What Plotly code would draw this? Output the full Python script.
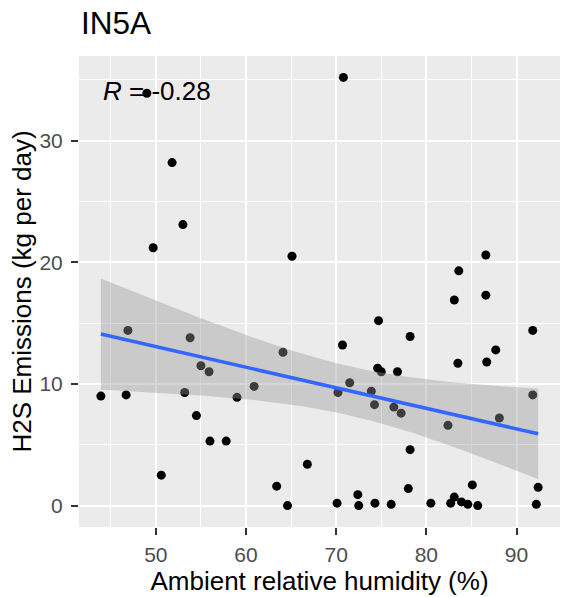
import numpy as np
import plotly.graph_objects as go

# ---- data ----
humidity = [43.9, 46.7, 46.9, 49.0, 49.7, 50.6, 51.8, 53.0, 53.2, 53.8,
            54.5, 55.0, 55.9, 56.0, 57.8, 59.0, 60.9, 63.4, 64.1, 64.6,
            65.1, 66.8, 70.1, 70.2, 70.7, 70.8, 71.5, 72.4, 72.5, 73.9,
            74.25, 74.3, 74.6, 74.7, 75.0, 76.1, 76.4, 76.8, 77.2, 78.0,
            78.2, 78.2, 80.5, 82.4, 82.7, 83.1, 83.1, 83.5, 83.6, 83.9,
            84.6, 85.1, 85.7, 86.6, 86.6, 86.7, 87.7, 88.1, 91.8, 91.8,
            92.2, 92.4]
emissions = [9.0, 9.1, 14.4, 33.9, 21.2, 2.5, 28.2, 23.1, 9.3, 13.8,
             7.4, 11.5, 11.0, 5.3, 5.3, 8.9, 9.8, 1.6, 12.6, 0.0,
             20.5, 3.4, 0.2, 9.3, 13.2, 35.2, 10.1, 0.9, 0.0, 9.4,
             8.3, 0.2, 11.3, 15.2, 11.0, 0.1, 8.1, 11.0, 7.6, 1.4,
             4.6, 13.9, 0.2, 6.6, 0.2, 0.7, 16.9, 11.7, 19.3, 0.3,
             0.1, 1.7, 0.0, 20.6, 17.3, 11.8, 12.8, 7.2, 14.4, 9.1,
             0.1, 1.5]
x_ticks = [50, 60, 70, 80, 90]
y_ticks = [0, 10, 20, 30]
title_text = "IN5A"
x_title = "Ambient relative humidity (%)"
y_title = "H2S Emissions (kg per day)"
r_label = "<i>R</i> = -0.28"
T975 = 2.0003  # t quantile, df = n - 2

# ---- linear fit with 95% confidence band (like geom_smooth(method='lm')) ----
x = np.array(humidity)
y = np.array(emissions)
n = len(x)
slope, intercept = np.polyfit(x, y, 1)
resid = y - (slope * x + intercept)
s = np.sqrt(np.sum(resid ** 2) / (n - 2))
sxx = np.sum((x - x.mean()) ** 2)
grid = np.linspace(x.min(), x.max(), 80)
fit = slope * grid + intercept
se = s * np.sqrt(1 / n + (grid - x.mean()) ** 2 / sxx)
upper = fit + T975 * se
lower = fit - T975 * se

def expand(a):
    lo, hi = min(a), max(a)
    pad = (hi - lo) * 0.05
    return [lo - pad, hi + pad]

FONT = "Liberation Sans, Arial, sans-serif"

fig = go.Figure()
fig.add_trace(go.Scatter(x=humidity, y=emissions, mode="markers",
                         marker=dict(color="black", size=9, line=dict(width=0)),
                         hoverinfo="skip", showlegend=False))
fig.add_trace(go.Scatter(x=np.concatenate([grid, grid[::-1]]),
                         y=np.concatenate([upper, lower[::-1]]),
                         fill="toself", fillcolor="rgba(153,153,153,0.4)",
                         line=dict(width=0), mode="lines",
                         hoverinfo="skip", showlegend=False))
fig.add_trace(go.Scatter(x=grid, y=fit, mode="lines",
                         line=dict(color="#3366FF", width=3.6),
                         hoverinfo="skip", showlegend=False))

axis_common = dict(
    showgrid=True, gridcolor="white", gridwidth=2,
    zeroline=False, showline=False, automargin=False,
    ticks="outside", ticklen=7, tickwidth=1.6, tickcolor="#333333",
    tickfont=dict(family=FONT, size=21, color="#4D4D4D"),
    minor=dict(showgrid=True, gridcolor="white", gridwidth=1, dtick=5),
)
fig.update_xaxes(range=expand(humidity), tickvals=x_ticks, **axis_common,
                 ticklabelstandoff=2,
                 title=dict(text=x_title, font=dict(family=FONT, size=26, color="black"),
                            standoff=1))
fig.update_yaxes(range=expand(emissions), tickvals=y_ticks, **axis_common,
                 ticklabelstandoff=4,
                 title=dict(text=y_title, font=dict(family=FONT, size=26, color="black"),
                            standoff=0))

fig.add_annotation(x=min(humidity), y=34.1, xref="x", yref="y",
                   text=r_label, showarrow=False, xanchor="left", yanchor="middle",
                   font=dict(family=FONT, size=26, color="black"))
fig.add_annotation(x=0, y=1, xref="paper", yref="paper", text=title_text,
                   showarrow=False, xanchor="left", yanchor="bottom", yshift=13,
                   font=dict(family=FONT, size=31.5, color="black"))

fig.update_layout(width=567, height=597,
                  margin=dict(l=79, r=7, t=56, b=70, pad=0),
                  plot_bgcolor="#EBEBEB", paper_bgcolor="white",
                  showlegend=False)
fig.write_html("out.html", config={"displayModeBar": False},
               post_script="document.body.style.margin='0';")
